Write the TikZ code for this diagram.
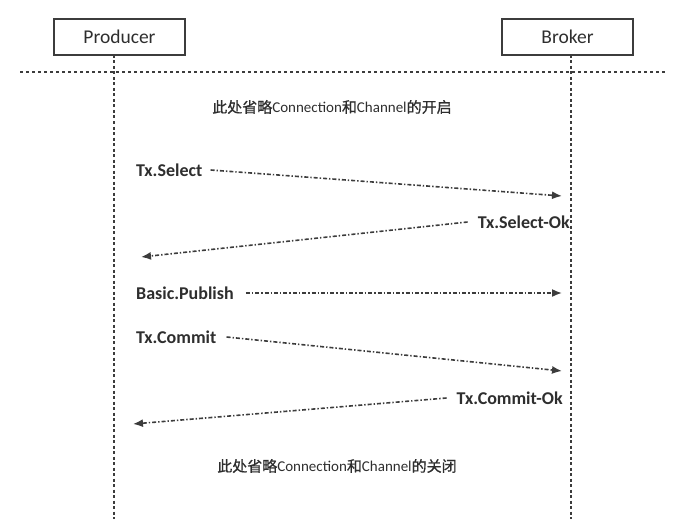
\documentclass[tikz,border=0pt]{standalone}
\usepackage{fontspec}
\setmainfont{Carlito}
\newfontfamily\cjk[FakeBold=0.8]{Noto Sans CJK SC}
\usetikzlibrary{arrows.meta}
\definecolor{ink}{HTML}{2E2E2E}
\definecolor{linec}{HTML}{3C3C3C}
\tikzset{
  actor/.style={draw=linec, line width=1.6pt, minimum width=131pt, minimum height=36pt, inner sep=0pt, text=ink, font=\fontsize{19.5}{22}\selectfont},
  lifeline/.style={draw=linec, line width=1.5pt, dash pattern=on 3pt off 2.5pt},
  sepline/.style={draw=linec, line width=1.5pt, dash pattern=on 3pt off 3pt},
  msg/.style={text=ink, font=\fontsize{18}{21}\selectfont\bfseries, inner sep=0pt},
  note/.style={text=ink, font=\fontsize{15}{18}\selectfont, inner sep=0pt},
  msgarrow/.style={draw=linec, line width=1.6pt, dash pattern=on 4pt off 2pt on 1.4pt off 2pt, -{Latex[length=10pt,width=8pt]}},
}
\begin{document}
\begin{tikzpicture}[x=1pt,y=-1pt]
\useasboundingbox (0,0) rectangle (686,519);
% actors
\node[actor] (prod) at (119.5,37) {Producer};
\node[actor] (brok) at (567.5,37) {Broker};
% lifelines
\coordinate (pt) at (114,55);
\coordinate (pb) at (114,519);
\coordinate (bt) at (571,55);
\coordinate (bb) at (571,519);
\draw[lifeline] (pt) -- (pb);
\draw[lifeline] (bt) -- (bb);
% separator
\coordinate (sl) at (20,72);
\coordinate (sr) at (666,72);
\draw[sepline] (sl) -- (sr);
% notes
\node[note] (open) at (332,107) {{\cjk 此处省略}Connection{\cjk 和}Channel{\cjk 的开启}};
\node[note] (close) at (337,466) {{\cjk 此处省略}Connection{\cjk 和}Channel{\cjk 的关闭}};
% messages
\node[msg, anchor=west] (ts) at (136,170) {Tx.Select};
\coordinate (tsE) at (562,196);
\draw[msgarrow] ([xshift=8pt]ts.east) -- (tsE);
\node[msg, anchor=east] (tso) at (570,222) {Tx.Select-Ok};
\coordinate (tsoE) at (141,257);
\draw[msgarrow] ([xshift=-10pt]tso.west) -- (tsoE);
\node[msg, anchor=west] (bp) at (136,293) {Basic.Publish};
\coordinate (bpE) at (562,293);
\draw[msgarrow] ([xshift=12pt]bp.east) -- (bpE);
\node[msg, anchor=west] (tc) at (136,337) {Tx.Commit};
\coordinate (tcE) at (562,371);
\draw[msgarrow] ([xshift=10pt]tc.east) -- (tcE);
\node[msg, anchor=east] (tco) at (563,398) {Tx.Commit-Ok};
\coordinate (tcoE) at (133,424);
\draw[msgarrow] ([xshift=-10pt]tco.west) -- (tcoE);
\end{tikzpicture}
\end{document}
